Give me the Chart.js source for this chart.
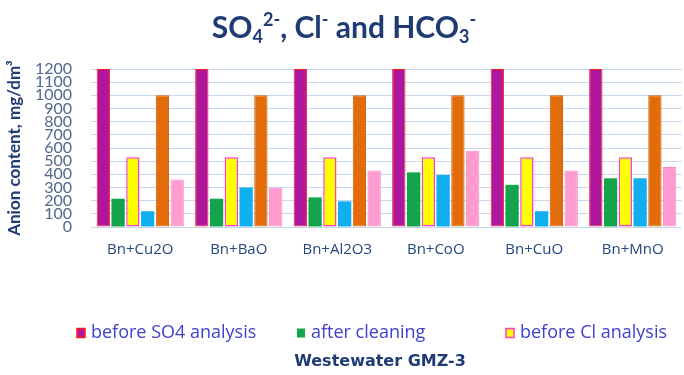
<!DOCTYPE html>
<html>
<head>
<meta charset="utf-8">
<script src="https://cdn.jsdelivr.net/npm/chart.js@4/dist/chart.umd.min.js"></script>
<style>
  html, body { margin: 0; padding: 0; background: #ffffff; }
  #wrap { width: 684px; height: 375px; position: relative; }
</style>
</head>
<body>
<div id="wrap"><canvas id="chart"></canvas></div>
<script>
// Sorbent mixtures tested on wastewater GMZ-3
const categories = ['Bn+Cu2O', 'Bn+BaO', 'Bn+Al2O3', 'Bn+CoO', 'Bn+CuO', 'Bn+MnO'];

// Anion content, mg/dm3
const so4Before  = [1200, 1200, 1200, 1200, 1200, 1200];
const so4After   = [215, 215, 225, 415, 320, 370];
const clBefore   = [530, 530, 530, 530, 530, 530];
const clAfter    = [120, 300, 195, 395, 120, 370];
const hco3Before = [1000, 1000, 1000, 1000, 1000, 1000];
const hco3After  = [360, 300, 430, 580, 430, 455];

const yTicks = [0, 100, 200, 300, 400, 500, 600, 700, 800, 900, 1000, 1100, 1200];

const seriesNames = ['before SO4 analysis', 'after cleaning', 'before Cl analysis',
                     'after cleaning', 'before HCO3 analysis', 'after cleaning'];
const legendCount = 3;

const NAVY = '#1f3b73';

function ds(label, data, fill, border, bw) {
  return { label, data, backgroundColor: fill, borderColor: border, borderWidth: bw,
           borderSkipped: false, barPercentage: 0.9, categoryPercentage: 0.9 };
}

// Title with sub/superscripts for the ion formulas
const titlePlugin = {
  id: 'ionTitle',
  afterDraw(chart) {
    const ctx = chart.ctx;
    const parts = [
      ['SO', 0], ['4', 1], ['2-', 2], [', Cl', 0], ['-', 2], [' and HCO', 0], ['3', 1], ['-', 2]
    ];
    const big = 'bold 30px Lato', small = 'bold 18px Lato';
    ctx.save();
    let total = 0;
    const widths = parts.map(p => { ctx.font = p[1] ? small : big; const w = ctx.measureText(p[0]).width; total += w; return w; });
    let x = chart.width / 2 - total / 2 + 2;
    const base = 38;
    ctx.fillStyle = NAVY;
    ctx.textBaseline = 'alphabetic';
    ctx.textAlign = 'left';
    parts.forEach((p, i) => {
      ctx.font = p[1] ? small : big;
      const dy = p[1] === 1 ? 5 : (p[1] === 2 ? -12 : 0);
      ctx.fillText(p[0], x, base + dy);
      x += widths[i];
    });
    ctx.restore();
  }
};

// Legend in three columns plus the sample caption underneath
const bottomPlugin = {
  id: 'bottomLegend',
  afterDraw(chart) {
    const ctx = chart.ctx;
    const cols = [77, 297, 506];
    const y = 333;
    ctx.save();
    ctx.font = '18px "Open Sans"';
    ctx.textBaseline = 'middle';
    ctx.textAlign = 'left';
    for (let i = 0; i < legendCount; i++) {
      const d = chart.data.datasets[i];
      ctx.fillStyle = d.backgroundColor;
      ctx.fillRect(cols[i], y - 4.5, 8, 9);
      if (d.borderWidth) {
        ctx.strokeStyle = d.borderColor;
        ctx.lineWidth = 1.5;
        ctx.strokeRect(cols[i], y - 4.5, 8, 9);
      }
      ctx.fillStyle = '#4040d0';
      ctx.fillText(d.label, cols[i] + 14, y);
    }
    ctx.font = 'bold 16px "DejaVu Sans"';
    ctx.fillStyle = NAVY;
    ctx.textAlign = 'center';
    ctx.fillText('Westewater GMZ-3', 380, 362);
    ctx.restore();
  }
};

new Chart(document.getElementById('chart'), {
  type: 'bar',
  data: {
    labels: categories,
    datasets: [
      ds(seriesNames[0], so4Before,  '#b0169c', '#ff1a1a', 1),
      ds(seriesNames[1], so4After,   '#14a54c', '#14a54c', 0),
      ds(seriesNames[2], clBefore,   '#ffff00', '#ff3cc8', 1.5),
      ds(seriesNames[3], clAfter,    '#10b0f0', '#10b0f0', 0),
      ds(seriesNames[4], hco3Before, '#e36c0a', '#d05e05', 1),
      ds(seriesNames[5], hco3After,  '#ff9ccf', '#ff88c4', 1)
    ]
  },
  options: {
    responsive: true,
    maintainAspectRatio: false,
    animation: false,
    layout: { padding: { top: 69, right: 2, bottom: 102, left: 0 } },
    plugins: {
      legend: { display: false },
      title: { display: false },
      tooltip: { enabled: false }
    },
    scales: {
      x: {
        grid: { display: false, drawTicks: false },
        border: { display: false },
        ticks: { color: '#24477e', font: { family: 'Open Sans', size: 15 }, padding: 14, maxRotation: 0 }
      },
      y: {
        min: 0, max: 1200,
        afterFit(scale) { scale.width = 91; },
        afterBuildTicks(scale) { scale.ticks = yTicks.map(v => ({ value: v })); },
        grid: { color: '#c6d9f0', lineWidth: 1, drawTicks: false },
        border: { display: false },
        ticks: {
          autoSkip: false, color: '#50678f', font: { family: 'Lato', size: 16 }, padding: 19,
          callback: v => String(v)
        },
        title: {
          display: true,
          text: 'Anion content, mg/dm³',
          color: NAVY,
          font: { family: 'Lato', size: 17, weight: 'bold' },
          padding: { top: 4, bottom: 0 }
        }
      }
    }
  },
  plugins: [titlePlugin, bottomPlugin]
});
</script>
</body>
</html>
